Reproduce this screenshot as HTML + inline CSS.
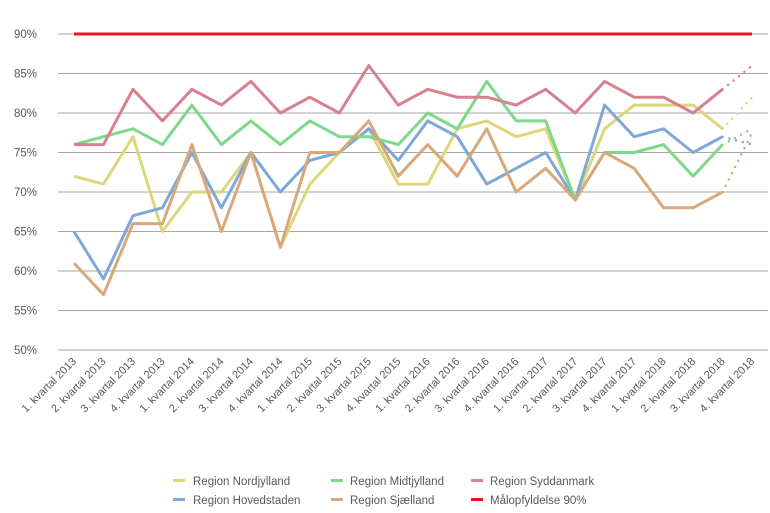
<!DOCTYPE html>
<html><head><meta charset="utf-8"><style>
html,body{margin:0;padding:0;background:#fff;}
svg{display:block;font-family:"Liberation Sans",sans-serif;}
</style></head><body>
<svg width="770" height="513" viewBox="0 0 770 513" xmlns="http://www.w3.org/2000/svg">
<g id="grid" stroke="#a6a6a6" stroke-width="1"></g>
<g id="ylab" font-size="11.5" fill="#595959" text-anchor="end"></g>
<g id="xlab" font-size="11" fill="#595959" text-anchor="end"></g>
<g id="series" fill="none" stroke-width="3" stroke-linejoin="round"></g>
<g font-size="11.5" fill="#595959">
<rect x="173" y="479" width="12" height="3" fill="#dcd77a"/><text x="193" y="485">Region Nordjylland</text>
<rect x="331" y="479" width="12" height="3" fill="#7ed88a"/><text x="350" y="485">Region Midtjylland</text>
<rect x="471" y="479" width="12" height="3" fill="#d9808f"/><text x="490" y="485">Region Syddanmark</text>
<rect x="173" y="498" width="12" height="3" fill="#7fa8d8"/><text x="193" y="504">Region Hovedstaden</text>
<rect x="331" y="498" width="12" height="3" fill="#d9a87a"/><text x="350" y="504">Region Sjælland</text>
<rect x="471" y="498" width="12" height="3" fill="#e8141e"/><text x="490" y="504">Målopfyldelse 90%</text>
</g>
</svg>
<script>
const NS="http://www.w3.org/2000/svg";
const Y=v=>34+(90-v)*7.9, X=i=>74+29.48*i;
const g=document.getElementById('grid'),yl=document.getElementById('ylab'),xl=document.getElementById('xlab'),s=document.getElementById('series');
function el(t,a,p,txt){const e=document.createElementNS(NS,t);for(const k in a)e.setAttribute(k,a[k]);if(txt)e.textContent=txt;p.appendChild(e);return e;}
for(let v=50;v<=90;v+=5){const y=Y(v);el('line',{x1:58,x2:768,y1:y,y2:y},g);el('text',{x:37,y:y+4},yl,v+'%');}
for(let i=0;i<24;i++){const q=i%4+1,yr=2013+Math.floor(i/4);const x=X(i)+3,y=362;el('text',{x:x,y:y,transform:`rotate(-45 ${x} ${y})`},xl,q+'. kvartal '+yr);}
const D=[
["#dcd77a",[72,71,77,65,70,70,75,63,71,75,78,71,71,78,79,77,78,69,78,81,81,81,78],82],
["#7fa8d8",[65,59,67,68,75,68,75,70,74,75,78,74,79,77,71,73,75,69,81,77,78,75,77],76],
["#7ed88a",[76,77,78,76,81,76,79,76,79,77,77,76,80,78,84,79,79,69,75,75,76,72,76],78],
["#d9a87a",[61,57,66,66,76,65,75,63,75,75,79,72,76,72,78,70,73,69,75,73,68,68,70],77.5],
["#d9808f",[76,76,83,79,83,81,84,80,82,80,86,81,83,82,82,81,83,80,84,82,82,80,83],86]];
for(const [c,d,e] of D){el('polyline',{points:d.map((v,i)=>X(i)+','+Y(v)).join(' '),stroke:c},s);
el('line',{x1:X(22),y1:Y(d[22]),x2:X(23),y2:Y(e),stroke:c,'stroke-width':2.5,'stroke-dasharray':'0 7','stroke-linecap':'round'},s);}
el('line',{x1:X(0),x2:X(23),y1:Y(90),y2:Y(90),stroke:'#e8141e','stroke-width':3},s);
</script>
</body></html>
